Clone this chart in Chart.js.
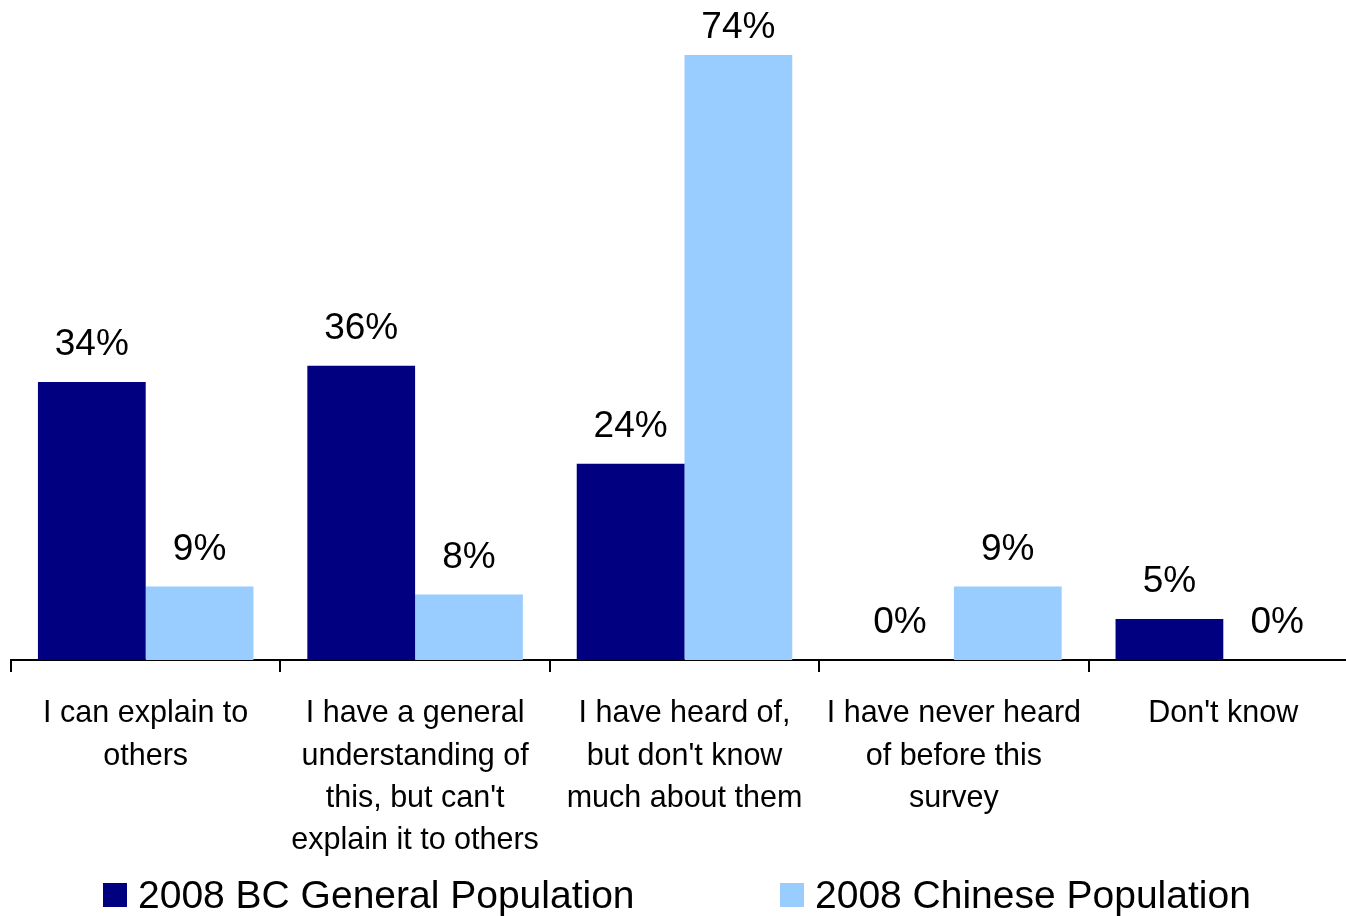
<!DOCTYPE html>
<html lang="en">
<head>
  <meta charset="UTF-8">
  <title>Awareness - BC vs Chinese Population</title>
  <script src="https://cdn.jsdelivr.net/npm/chart.js"></script>
  <style>
    body { margin: 0; overflow: hidden; background: #fff; font-family: "Liberation Sans", Arial, sans-serif; }
    #wrap { position: relative; width: 1360px; height: 916px; }
    #legend { position: absolute; top: 873px; left: 0; width: 1346px; height: 46px; }
    .item { position: absolute; top: 0; display: flex; align-items: center; font-size: 39px; color: #000; white-space: nowrap; }
    .box { width: 24px; height: 24px; margin-right: 11px; }
  </style>
</head>
<body>
  <div id="wrap">
    <canvas id="awarenessChart"></canvas>
    <div id="legend"></div>
  </div>
  <script>
    // categories (multi-line tick labels)
    const categories = [
      ["I can explain to", "others"],
      ["I have a general", "understanding of", "this, but can't", "explain it to others"],
      ["I have heard of,", "but don't know", "much about them"],
      ["I have never heard", "of before this", "survey"],
      ["Don't know"]
    ];
    const seriesNames = ["2008 BC General Population", "2008 Chinese Population"];
    const bcGeneral = [34, 36, 24, 0, 5];
    const chinesePop = [9, 8, 74, 9, 0];
    const seriesColors = ["#000080", "#99CCFF"];

    // percent labels above each bar
    const valueLabels = {
      id: 'valueLabels',
      afterDatasetsDraw(chart) {
        const ctx = chart.ctx;
        ctx.save();
        ctx.font = '37px "Liberation Sans", Arial, sans-serif';
        ctx.fillStyle = '#000';
        ctx.textAlign = 'center';
        ctx.textBaseline = 'middle';
        chart.data.datasets.forEach((ds, i) => {
          chart.getDatasetMeta(i).data.forEach((bar, j) => {
            const y = Math.max(bar.y - 37, 28);
            ctx.fillText(ds.data[j] + '%', bar.x, y);
          });
        });
        ctx.restore();
      }
    };

    const ctx = document.getElementById('awarenessChart').getContext('2d');
    new Chart(ctx, {
      type: 'bar',
      data: {
        labels: categories,
        datasets: [
          { label: seriesNames[0], data: bcGeneral, backgroundColor: seriesColors[0] },
          { label: seriesNames[1], data: chinesePop, backgroundColor: seriesColors[1] }
        ]
      },
      options: {
        responsive: true,
        maintainAspectRatio: false,
        animation: false,
        layout: { padding: { top: 55, left: 11, right: 2, bottom: 0 } },
        datasets: { bar: { categoryPercentage: 0.8, barPercentage: 1.0 } },
        plugins: { legend: { display: false }, tooltip: { enabled: false } },
        scales: {
          y: { display: false, min: 0, max: 74 },
          x: {
            grid: { offset: true, drawOnChartArea: false, tickLength: 12, color: '#000', lineWidth: 2 },
            border: { color: '#000', width: 2 },
            ticks: {
              color: '#000',
              padding: 21,
              autoSkip: false,
              maxRotation: 0,
              font: { family: '"Liberation Sans", Arial, sans-serif', size: 30.5, lineHeight: 1.38 }
            },
            afterFit(scale) { scale.height = 256; }
          }
        }
      },
      plugins: [valueLabels]
    });

    // legend below the chart
    const legendLeft = [103, 780];
    const legendEl = document.getElementById('legend');
    seriesNames.forEach((name, i) => {
      const item = document.createElement('div');
      item.className = 'item';
      item.style.left = legendLeft[i] + 'px';
      item.innerHTML = '<span class="box" style="background:' + seriesColors[i] + '"></span>' + name;
      legendEl.appendChild(item);
    });
  </script>
</body>
</html>
